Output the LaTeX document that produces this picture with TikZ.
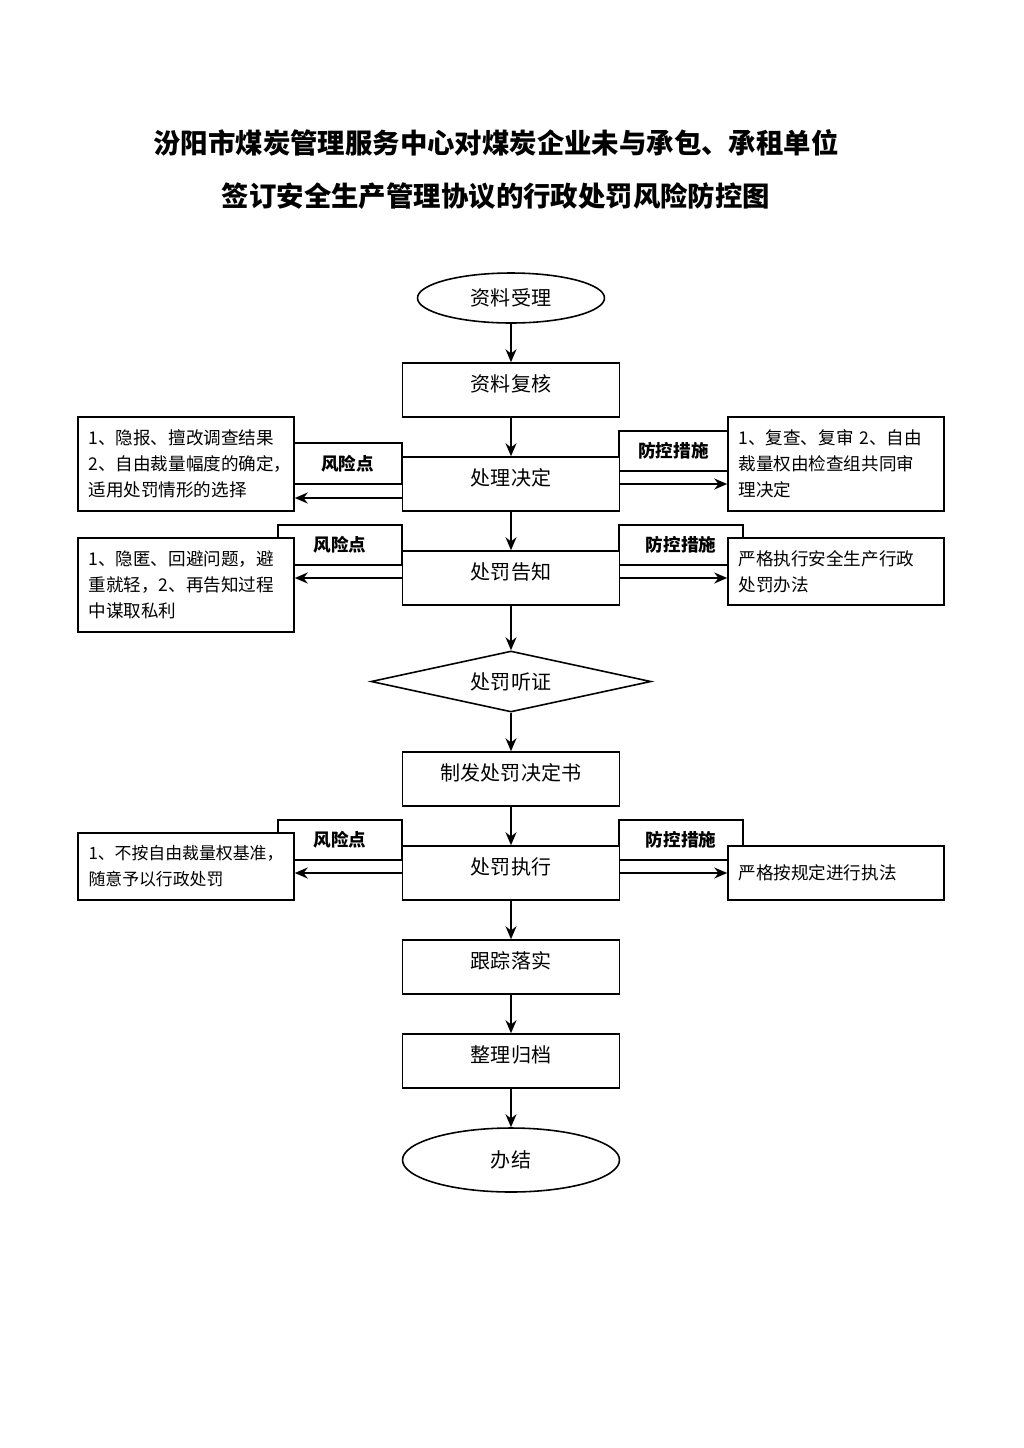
\documentclass[tikz,border=0pt]{standalone}
\usepackage{fontspec}
\setmainfont{Noto Sans CJK SC}
\usepackage{tikz}
\usetikzlibrary{arrows.meta}
\usetikzlibrary{shapes.geometric}

\begin{document}
\begin{tikzpicture}[x=0.02cm,y=-0.02cm,line width=0.9pt,
  every node/.style={inner sep=0pt},
  stage/.style={draw,fill=white,minimum width=4.34cm,text height=0.57cm,text depth=0.51cm,font=\fontsize{11.4}{13}\selectfont},
  ends/.style={draw,fill=white,ellipse,font=\fontsize{11.4}{13}\selectfont},
  tag/.style={draw,minimum height=0.8cm,font=\bfseries\fontsize{10}{12}\selectfont},
  note/.style={draw,fill=white,minimum width=4.32cm,text width=3.9cm,align=left,font=\fontsize{10}{14.8}\selectfont},
  arr/.style={-{Stealth[length=2.6mm,width=2.2mm]}}]
  \useasboundingbox (0,0) rectangle (1024,1448);
  % title
  \node (title1) at (496,143) {\bfseries\fontsize{15.6}{18}\selectfont 汾阳市煤炭管理服务中心对煤炭企业未与承包、承租单位};
  \node (title2) at (496,196) {\bfseries\fontsize{15.6}{18}\selectfont 签订安全生产管理协议的行政处罚风险防控图};
  % tags behind the boxes
  \node[tag,minimum width=2.18cm,minimum height=0.82cm] (rl1) at (347.5,463.5) {风险点};
  \node[tag,minimum width=2.18cm] (ml1) at (673.5,451) {防控措施};
  \node[tag,minimum width=2.48cm] (rl2) at (340,545) {风险点};
  \node[tag,minimum width=2.48cm] (ml2) at (681,545) {防控措施};
  \node[tag,minimum width=2.48cm] (rl3) at (340,840) {风险点};
  \node[tag,minimum width=2.48cm] (ml3) at (681,840) {防控措施};
  % main flow
  \node[ends,minimum width=3.74cm,minimum height=1cm] (accept) at (511,298) {资料受理};
  \node[stage] (review) at (511,390) {资料复核};
  \node[stage] (decide) at (511,484) {处理决定};
  \node[stage] (notice) at (511,578) {处罚告知};
  \node[draw,fill=white,diamond,shape aspect=4.6,minimum width=5.6cm,minimum height=1.22cm,font=\fontsize{11.4}{13}\selectfont] (hearing) at (511,681.5) {处罚听证};
  \node[stage] (issue) at (511,779) {制发处罚决定书};
  \node[stage] (execute) at (511,873) {处罚执行};
  \node[stage] (track) at (511,967) {跟踪落实};
  \node[stage] (archive) at (511,1061) {整理归档};
  \node[ends,minimum width=4.34cm,minimum height=1.28cm] (finish) at (511,1160) {办结};
  % side notes
  \node[note,minimum height=1.88cm] (rb1) at (186,464) {1、隐报、擅改调查结果\\2、自由裁量幅度的确定，\\适用处罚情形的选择};
  \node[note,minimum height=1.88cm] (mb1) at (836,464) {1、复查、复审 2、自由\\裁量权由检查组共同审\\理决定};
  \node[note,minimum height=1.88cm] (rb2) at (186,585) {1、隐匿、回避问题，避\\重就轻，2、再告知过程\\中谋取私利};
  \node[note,minimum height=1.34cm] (mb2) at (836,571.5) {严格执行安全生产行政\\处罚办法};
  \node[note,minimum height=1.34cm,font=\fontsize{9.6}{14.8}\selectfont] (rb3) at (186,866.5) {1、不按自由裁量权基准，\\随意予以行政处罚};
  \node[note,minimum height=1.08cm] (mb3) at (836,873) {严格按规定进行执法};
  % connectors
  \path[arr]
    (accept) edge (review)
    (review) edge (decide)
    (decide) edge (notice)
    (notice) edge (hearing)
    (hearing) edge (issue)
    (issue) edge (execute)
    (execute) edge (track)
    (track) edge (archive)
    (archive) edge (finish);
  \draw[arr] (decide.west |- 0,498) -- (rb1.east |- 0,498);
  \draw[arr] (decide.east) -- (mb1.west |- decide.east);
  \draw[arr] (notice.west) -- (rb2.east |- notice.west);
  \draw[arr] (notice.east) -- (mb2.west |- notice.east);
  \draw[arr] (execute.west) -- (rb3.east |- execute.west);
  \draw[arr] (execute.east) -- (mb3.west |- execute.east);
\end{tikzpicture}
\end{document}
